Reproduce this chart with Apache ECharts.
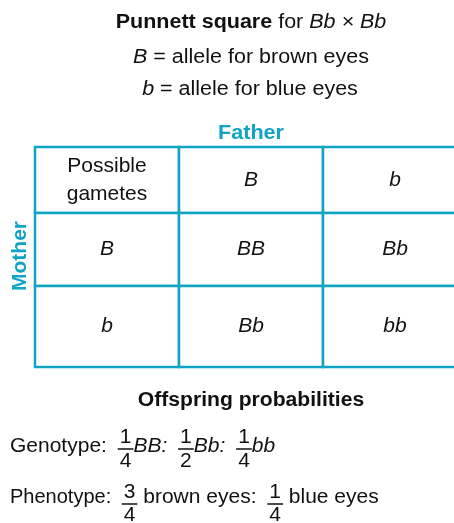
<!DOCTYPE html>
<html><head><meta charset="utf-8">
<script src="https://cdn.jsdelivr.net/npm/echarts@6/dist/echarts.min.js"></script>
<style>html,body{margin:0;padding:0;background:#fff}#c{width:454px;height:523px}</style>
</head><body><div id="c"></div>
<script>
// ---- data ----
const fatherGametes = ['B', 'b'];
const motherGametes = ['B', 'b'];
const cornerLabel = 'Possible\ngametes';
const offspring = [['BB', 'Bb'], ['Bb', 'bb']];
const genotypeLabels = ['BB', 'Bb', 'bb'];
const genotypeFractions = [['1', '4'], ['1', '2'], ['1', '4']];
const phenotypeLabels = ['brown eyes', 'blue eyes'];
const phenotypeFractions = [['3', '4'], ['1', '4']];

// ---- layout constants ----
const TEAL = '#0fa3c4';
const INK = '#111111';
const FF = '"Liberation Sans", Arial, Helvetica, sans-serif';
const FS = 20;      // titles
const FSB = 21;     // table + footer
const TSX = 1.075;  // horizontal stretch of title lines
const rowEdges = [0, 66, 139, 220]; // axis units (row boundaries)

// cells: [col, row, text, italic]
const cells = [[0, 0, cornerLabel, false]];
fatherGametes.forEach((g, i) => cells.push([i + 1, 0, g, true]));
motherGametes.forEach((g, r) => {
  cells.push([0, r + 1, g, true]);
  offspring[r].forEach((o, c) => cells.push([c + 1, r + 1, o, true]));
});

const ctx = document.createElement('canvas').getContext('2d');
function tw(t, italic, size) { ctx.font = (italic ? 'italic ' : '') + size + 'px ' + FF; return ctx.measureText(t).width; }

function flow(parts, x0, midY, numY, barY, denY) {
  const els = [];
  let x = x0;
  parts.forEach(p => {
    if (p.frac) {
      x += 4;
      const pad = 3;
      const w = Math.max(tw(p.frac[0], false, FSB), tw(p.frac[1], false, FSB)) + 2 * pad;
      els.push({ type: 'text', x: x + w / 2, y: numY, style: { text: p.frac[0], fontSize: FSB, fontFamily: FF, fill: INK, align: 'center', verticalAlign: 'middle' } });
      els.push({ type: 'text', x: x + w / 2, y: denY, style: { text: p.frac[1], fontSize: FSB, fontFamily: FF, fill: INK, align: 'center', verticalAlign: 'middle' } });
      els.push({ type: 'line', shape: { x1: x + 1, y1: barY, x2: x + w - 1, y2: barY }, style: { stroke: INK, lineWidth: 1.5 } });
      x += w - 1;
    } else {
      const fs = p.fs || FSB;
      els.push({ type: 'text', x: x, y: midY, style: { text: p.t, fontSize: fs, fontFamily: FF, fontStyle: p.i ? 'italic' : 'normal', fill: INK, align: 'left', verticalAlign: 'middle' } });
      x += tw(p.t, p.i, fs);
    }
  });
  return els;
}

const genoParts = [{ t: 'Genotype: ' }];
genotypeLabels.forEach((g, i) => {
  genoParts.push({ frac: genotypeFractions[i] });
  genoParts.push({ t: g + (i < genotypeLabels.length - 1 ? ': ' : ''), i: true });
});
const phenoParts = [{ t: 'Phenotype: ', fs: 20 }];
phenotypeLabels.forEach((p, i) => {
  phenoParts.push({ frac: phenotypeFractions[i] });
  phenoParts.push({ t: ' ' + p + (i < phenotypeLabels.length - 1 ? ': ' : '') });
});

const centerText = (x, y, text, rich, extra, sx) => ({
  type: 'text', x: x, y: y, scaleX: sx || 1,
  style: Object.assign({ text: text, rich: rich || {}, fontSize: FS, fontFamily: FF, fill: INK, align: 'center', verticalAlign: 'middle' }, extra || {})
});
const it = { fontStyle: 'italic', fontSize: FS, fontFamily: FF, fill: INK };

const graphics = [
  centerText(251, 22, '{b|Punnett square} for {i|Bb × Bb}', {
    b: { fontWeight: 'bold', fontSize: FS, fontFamily: FF, fill: INK }, i: it }, null, TSX),
  centerText(251, 57, '{i|B} = allele for brown eyes', { i: it }, null, TSX),
  centerText(250, 89, '{i|b} = allele for blue eyes', { i: it }, null, TSX),
  centerText(251, 133, 'Father', null, { fontWeight: 'bold', fill: TEAL }, 1.08),
  { type: 'text', x: 20, y: 256, rotation: Math.PI / 2, scaleX: 1.05,
    style: { text: 'Mother', fontSize: FS, fontFamily: FF, fontWeight: 'bold', fill: TEAL, align: 'center', verticalAlign: 'middle' } },
  centerText(251, 400, 'Offspring probabilities', null, { fontWeight: 'bold' }, 1.056)
].concat(flow(genoParts, 10, 446, 437, 449, 461))
 .concat(flow(phenoParts, 10, 497, 492, 504, 515));

const chart = echarts.init(document.getElementById('c'), null, { renderer: 'canvas' });
chart.setOption({
  backgroundColor: '#ffffff',
  animation: false,
  grid: { left: 35, top: 147, width: 432, height: 220, outerBoundsMode: 'none', containLabel: false },
  xAxis: { type: 'value', min: 0, max: 3, show: false },
  yAxis: { type: 'value', min: 0, max: 220, inverse: true, show: false },
  series: [{
    type: 'custom',
    clip: false,
    data: cells.map(c => [c[0], c[1]]),
    renderItem: function (params, api) {
      const col = api.value(0), row = api.value(1);
      const p0 = api.coord([col, rowEdges[row]]);
      const p1 = api.coord([col + 1, rowEdges[row + 1]]);
      const d = cells[params.dataIndex];
      return {
        type: 'group',
        children: [
          { type: 'rect', shape: { x: p0[0], y: p0[1], width: p1[0] - p0[0], height: p1[1] - p0[1] },
            style: { fill: '#ffffff', stroke: TEAL, lineWidth: 2.5 } },
          { type: 'text', x: (p0[0] + p1[0]) / 2, y: (p0[1] + p1[1]) / 2,
            style: { text: d[2], fontSize: FSB, fontFamily: FF, fontStyle: d[3] ? 'italic' : 'normal', fill: INK,
                     align: 'center', verticalAlign: 'middle', lineHeight: 28 } }
        ]
      };
    }
  }],
  graphic: graphics
});
</script>
</body></html>
